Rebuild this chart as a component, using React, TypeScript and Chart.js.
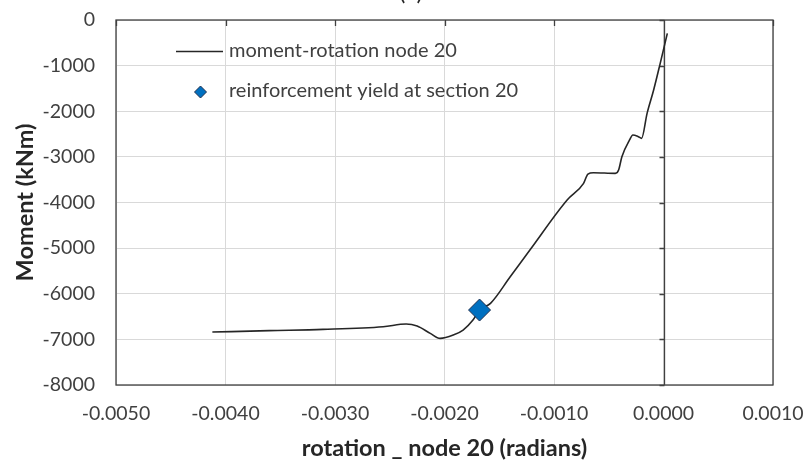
import React, { useEffect, useRef } from "react";
import { Chart, registerables } from "chart.js";

Chart.register(...registerables);

const rotation = [
  -0.00412, -0.0036, -0.00311, -0.00256, -0.00235, -0.00225, -0.00213, -0.00204,
  -0.00192, -0.00183, -0.00174, -0.00168, -0.00158, -0.0014, -0.00122, -0.00088,
  -0.00073, -0.00069, -0.00064, -0.00044, -0.00041, -0.00038, -0.00031, -0.00028,
  -0.00023, -0.0002, -0.00015, -0.00009, -0.00003, 0.000035,
];
const moment = [
  -6840, -6808, -6781, -6722, -6664, -6708, -6868, -6978,
  -6905, -6795, -6576, -6357, -6210, -5627, -5042, -3946,
  -3580, -3376, -3347, -3361, -3288, -2996, -2630, -2521,
  -2557, -2594, -2046, -1534, -950, -292,
];
const yieldRotation = [-0.00168];
const yieldMoment = [-6357];

const seriesLabels = ["moment-rotation node 20", "reinforcement yield at section 20"];
const chartTitle = "(a)";
const xTitle = "rotation _ node 20 (radians)";
const yTitle = "Moment (kNm)";

const FONT = "Lato, 'Open Sans', sans-serif";

const zeroPad = (s: any) => {
  s.paddingTop = 0;
  s.paddingBottom = 0;
  s.paddingLeft = 0;
  s.paddingRight = 0;
};

const framePlugin = {
  id: "frame",
  beforeDatasetsDraw(chart: any) {
    const { ctx, chartArea } = chart;
    const xs = chart.scales.x;
    const ys = chart.scales.y;
    ctx.save();
    ctx.strokeStyle = "#404040";
    ctx.lineWidth = 1.3;
    ctx.strokeRect(chartArea.left, chartArea.top, chartArea.right - chartArea.left, chartArea.bottom - chartArea.top);
    const x0 = Math.round(xs.getPixelForValue(0)) + 0.5;
    ctx.beginPath();
    ctx.moveTo(x0, chartArea.top);
    ctx.lineTo(x0, chartArea.bottom);
    ys.ticks.forEach((t: any) => {
      const py = Math.round(ys.getPixelForValue(t.value)) + 0.5;
      ctx.moveTo(x0 - 5, py);
      ctx.lineTo(x0, py);
    });
    xs.ticks.forEach((t: any) => {
      const px = Math.round(xs.getPixelForValue(t.value)) + 0.5;
      ctx.moveTo(px, chartArea.top);
      ctx.lineTo(px, chartArea.top + 6);
    });
    ctx.stroke();
    ctx.restore();
  },
  afterDraw(chart: any) {
    const { ctx, chartArea } = chart;
    ctx.save();
    ctx.fillStyle = "#262626";
    ctx.font = `24px ${FONT}`;
    ctx.textAlign = "center";
    ctx.textBaseline = "alphabetic";
    ctx.fillText(chartTitle, 411, 0);
    const lx = chartArea.left + 60;
    ctx.strokeStyle = "#262626";
    ctx.lineWidth = 1.5;
    ctx.beginPath();
    ctx.moveTo(lx, 51.5);
    ctx.lineTo(lx + 47, 51.5);
    ctx.stroke();
    const dx = lx + 24.5;
    const dy = 92;
    const r = 6;
    ctx.beginPath();
    ctx.moveTo(dx, dy - r);
    ctx.lineTo(dx + r, dy);
    ctx.lineTo(dx, dy + r);
    ctx.lineTo(dx - r, dy);
    ctx.closePath();
    ctx.fillStyle = "#0070C0";
    ctx.fill();
    ctx.strokeStyle = "#1F2F4F";
    ctx.lineWidth = 1;
    ctx.stroke();
    ctx.fillStyle = "#404040";
    ctx.font = `20px ${FONT}`;
    ctx.textAlign = "left";
    ctx.textBaseline = "middle";
    ctx.fillText(chart.data.datasets[0].label, lx + 53, 51);
    ctx.fillText(chart.data.datasets[1].label, lx + 53, 91);
    ctx.restore();
  },
};

export default function App() {
  const ref = useRef<HTMLCanvasElement | null>(null);
  useEffect(() => {
    if (!ref.current) return;
    const chart = new Chart(ref.current, {
      type: "line",
      data: {
        datasets: [
          {
            label: seriesLabels[0],
            data: rotation.map((x, i) => ({ x, y: moment[i] })),
            borderColor: "#262626",
            borderWidth: 1.6,
            pointRadius: 0,
            cubicInterpolationMode: "monotone",
            fill: false,
            order: 2,
          },
          {
            label: seriesLabels[1],
            data: yieldRotation.map((x, i) => ({ x, y: yieldMoment[i] })),
            showLine: false,
            pointStyle: "rectRot",
            pointRadius: 11,
            pointBackgroundColor: "#0070C0",
            pointBorderColor: "#1F2F4F",
            pointBorderWidth: 1,
            order: 1,
          },
        ],
      },
      options: {
        responsive: false,
        animation: false,
        devicePixelRatio: 1,
        layout: { padding: { top: 20, right: 35, left: 0, bottom: 0 } },
        plugins: {
          legend: { display: false },
          tooltip: { enabled: false },
          title: { display: false },
        },
        scales: {
          x: {
            type: "linear",
            min: -0.005,
            max: 0.001,
            afterFit: (s: any) => {
              s.height = 79;
              zeroPad(s);
            },
            border: { display: false },
            grid: { color: "#d9d9d9", drawTicks: false, lineWidth: 1 },
            ticks: {
              stepSize: 0.001,
              padding: 17,
              color: "#404040",
              font: { family: FONT, size: 19.5 },
              maxRotation: 0,
              callback: (v: any) => Number(v).toFixed(4),
            },
            title: {
              display: true,
              text: xTitle,
              color: "#262626",
              font: { family: FONT, size: 23.5, weight: "bold" },
              padding: { top: 0, bottom: 1 },
            },
          },
          y: {
            type: "linear",
            min: -8000,
            max: 0,
            afterFit: (s: any) => {
              s.width = 116;
              zeroPad(s);
            },
            border: { display: false },
            grid: { color: "#d9d9d9", drawTicks: false, lineWidth: 1 },
            ticks: {
              stepSize: 1000,
              padding: 21,
              color: "#404040",
              font: { family: FONT, size: 19.5 },
              callback: (v: any) => String(v),
            },
            title: {
              display: true,
              text: yTitle,
              color: "#262626",
              font: { family: FONT, size: 23.5, weight: "bold" },
              padding: { top: 11, bottom: 0 },
            },
          },
        },
      },
      plugins: [framePlugin],
    });
    return () => chart.destroy();
  }, []);
  return (
    <div style={{ position: "absolute", left: 0, top: 0, width: 808, height: 464, background: "#fff" }}>
      <canvas ref={ref} width={808} height={464} />
    </div>
  );
}
